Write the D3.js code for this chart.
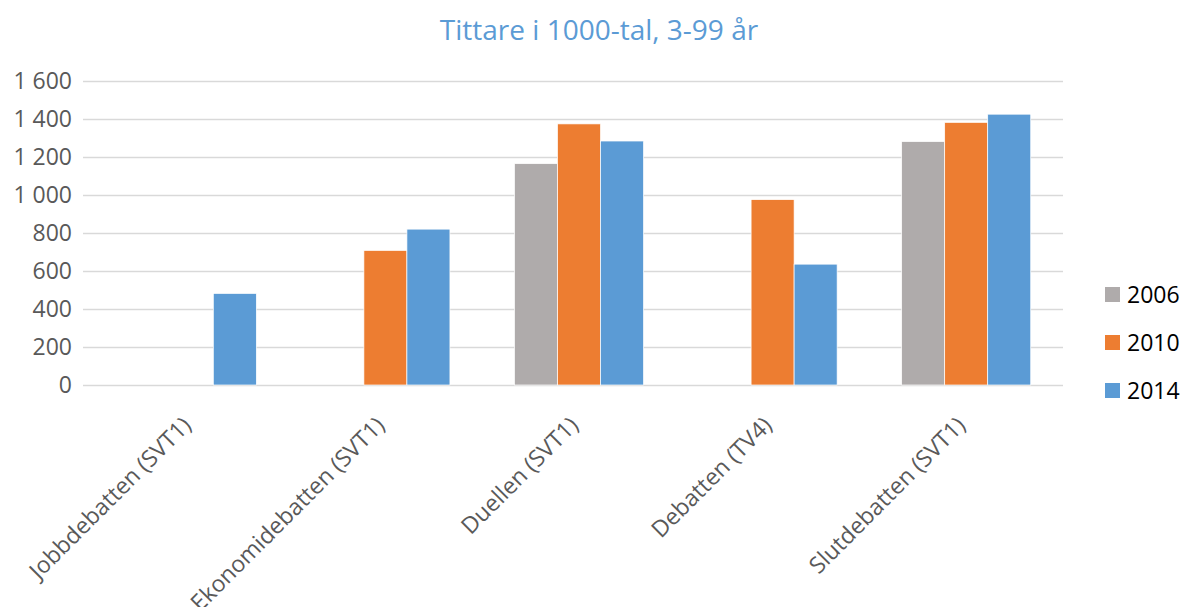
<!DOCTYPE html>
<html lang="sv">
<head>
<meta charset="UTF-8">
<title>Tittare i 1000-tal</title>
<script src="https://d3js.org/d3.v7.min.js"></script>
<style>
  body { margin: 0; background: #fff; }
  text { font-family: "Open Sans", "Liberation Sans", sans-serif; }
</style>
</head>
<body>
<div id="chart"></div>
<script>
// data
const categories = ["Jobbdebatten (SVT1)", "Ekonomidebatten (SVT1)", "Duellen (SVT1)", "Debatten (TV4)", "Slutdebatten (SVT1)"];
const years = ["2006", "2010", "2014"];
const values2006 = [null, null, 1163, null, 1279];
const values2010 = [null, 707, 1372, 974, 1380];
const values2014 = [481, 819, 1282, 635, 1423];
const yTicks = [0, 200, 400, 600, 800, 1000, 1200, 1400, 1600];
const colors = ["#AFABAB", "#ED7D31", "#5B9BD5"];

const width = 1184, height = 607;
const margin = {top: 80, left: 95, right: 121, bottom: 222};

const svg = d3.select("#chart").append("svg")
  .attr("width", width)
  .attr("height", height);

const series = [values2006, values2010, values2014];

const x = d3.scaleBand()
  .domain(categories)
  .range([margin.left, width - margin.right])
  .paddingInner(1 / 3)
  .paddingOuter(1 / 6);

const x1 = d3.scaleBand()
  .domain(years)
  .range([0, x.bandwidth()]);

const y = d3.scaleLinear()
  .domain([0, 1600])
  .range([height - margin.bottom, margin.top + 0.5]);

// title
svg.append("text")
  .attr("x", 599)
  .attr("y", 40)
  .attr("text-anchor", "middle")
  .style("font-size", "28px")
  .style("fill", "#5B9BD5")
  .text("Tittare i 1000-tal, 3-99 år");

// gridlines
svg.append("g")
  .selectAll("line")
  .data(yTicks)
  .enter()
  .append("line")
  .attr("x1", margin.left - 12)
  .attr("x2", width - margin.right)
  .attr("y1", d => Math.round(y(d)) + 0.5)
  .attr("y2", d => Math.round(y(d)) + 0.5)
  .style("stroke", "#D9D9D9")
  .style("stroke-width", 1.3);

// y labels
svg.append("g")
  .selectAll("text")
  .data(yTicks)
  .enter()
  .append("text")
  .attr("x", 72)
  .attr("y", d => y(d))
  .attr("dy", "0.35em")
  .attr("text-anchor", "end")
  .style("font-size", "23px")
  .style("fill", "#595959")
  .text(d => d3.format(",")(d).replace(",", " "));

// bars
const groups = svg.append("g")
  .selectAll("g")
  .data(categories)
  .enter()
  .append("g")
  .attr("transform", d => "translate(" + x(d) + ",0)");

groups.selectAll("rect")
  .data((c, i) => years.map((yr, j) => ({year: yr, value: series[j][i], color: colors[j]})))
  .enter()
  .filter(d => d.value != null)
  .append("rect")
  .attr("x", d => x1(d.year))
  .attr("width", x1.bandwidth())
  .attr("y", d => y(d.value))
  .attr("height", d => y(0) - y(d.value))
  .style("fill", d => d.color)
  .style("stroke", "#fff")
  .style("stroke-width", 0.7);

// x labels, rotated
svg.append("g")
  .selectAll("text")
  .data(categories)
  .enter()
  .append("text")
  .attr("transform", d => "translate(" + (x(d) + x.bandwidth() / 2 - 5) + "," + 421 + ") rotate(-45)")
  .attr("text-anchor", "end")
  .attr("dy", "0.35em")
  .style("font-size", "23px")
  .style("fill", "#595959")
  .text(d => d);

// legend
const legend = svg.append("g")
  .selectAll("g")
  .data(years)
  .enter()
  .append("g")
  .attr("transform", (d, i) => "translate(1105," + (294.5 + i * 48) + ")");

legend.append("rect")
  .attr("x", 0)
  .attr("y", -7.5)
  .attr("width", 15)
  .attr("height", 15)
  .style("fill", (d, i) => colors[i]);

legend.append("text")
  .attr("x", 22)
  .attr("y", 0)
  .attr("dy", "0.36em")
  .style("font-size", "23px")
  .style("fill", "#000")
  .text(d => d);
</script>
</body>
</html>
